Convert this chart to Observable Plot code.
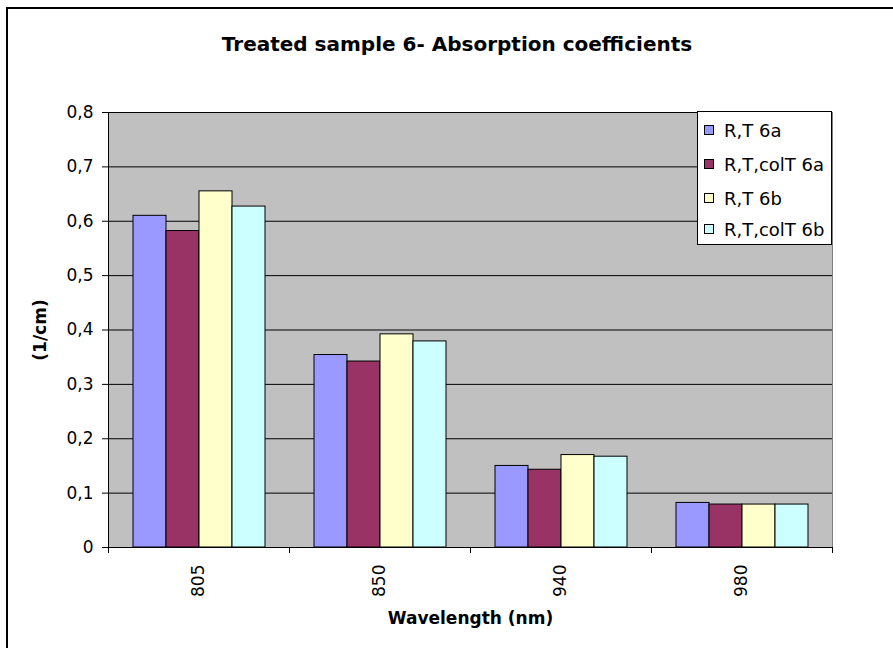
<!DOCTYPE html>
<html>
<head>
<meta charset="utf-8">
<script src="https://cdn.jsdelivr.net/npm/d3@7"></script>
<script src="https://cdn.jsdelivr.net/npm/@observablehq/plot@0.6"></script>
<style>
  html, body { margin: 0; padding: 0; background: #fff; }
  #chart { position: relative; width: 893px; height: 648px; overflow: hidden; font-family: "DejaVu Sans", sans-serif; }
  #border { position: absolute; left: 6px; top: 7px; width: 1000px; height: 1000px; border-left: 2px solid #000; border-top: 2px solid #000; box-sizing: border-box; }
  #title { position: absolute; left: 0; top: 32px; width: 914px; text-align: center; font-weight: bold; font-size: 20px; color: #000; }
  #legend { position: absolute; left: 697px; top: 111px; width: 135px; height: 134px; box-sizing: border-box; background: #fff; border: 1px solid #000; }
  .item { position: absolute; left: 6px; height: 20px; display: flex; align-items: center; font-size: 18px; color: #000; white-space: nowrap; }
  .swatch { width: 8px; height: 8px; border: 1px solid #000; margin-right: 10px; }
  svg [aria-label="y-axis label"], svg [aria-label="fx-axis label"] { font-weight: bold; }
</style>
</head>
<body>
<div id="chart">
  <div id="border"></div>
  <div id="title">Treated sample 6- Absorption coefficients</div>
</div>
<script>
// Wavelength categories (nm) and the four measured series
const wavelengths = ["805", "850", "940", "980"];
const seriesNames = ["R,T 6a", "R,T,colT 6a", "R,T 6b", "R,T,colT 6b"];
const rt6a    = [0.610, 0.354, 0.150, 0.082];
const rtCol6a = [0.582, 0.342, 0.143, 0.079];
const rt6b    = [0.655, 0.392, 0.170, 0.079];
const rtCol6b = [0.627, 0.379, 0.167, 0.079];
const seriesColors = ["#9999FF", "#993366", "#FFFFCC", "#CCFFFF"];
const yTicks = [0, 0.1, 0.2, 0.3, 0.4, 0.5, 0.6, 0.7, 0.8];

const seriesValues = [rt6a, rtCol6a, rt6b, rtCol6b];
const table = wavelengths.flatMap((w, i) =>
  seriesNames.map((s, j) => ({wavelength: w, series: s, value: seriesValues[j][i]}))
);

const W = 893, H = 648, mL = 108, mR = 61, mT = 112, mB = 101;
const band = (W - mL - mR) / wavelengths.length;
const commaFmt = d => d === 0 ? "0" : d3.format(".1f")(d).replace(".", ",");

const chart = Plot.plot({
  width: W,
  height: H,
  marginLeft: mL,
  marginRight: mR,
  marginTop: mT,
  marginBottom: mB,
  style: {fontFamily: "DejaVu Sans, sans-serif", fontSize: "17px", color: "#000", background: "transparent", overflow: "visible"},
  fx: {domain: wavelengths, padding: 0, axis: null},
  x: {domain: seriesNames, paddingInner: 0, paddingOuter: 0.74, axis: null},
  y: {domain: [0, 0.8], axis: null},
  color: {domain: seriesNames, range: seriesColors},
  marks: [
    Plot.frame({fill: "#C0C0C0", stroke: null, facet: "super"}),
    Plot.gridY(yTicks, {stroke: "#000", strokeOpacity: 1}),
    Plot.barY(table, {fx: "wavelength", x: "series", y: "value", fill: "series", stroke: "#000", strokeWidth: 1}),
    Plot.frame({anchor: "right", stroke: "#808080", strokeOpacity: 1, facet: "super"}),
    Plot.frame({anchor: "left", stroke: "#000", strokeOpacity: 1, facet: "super"}),
    Plot.ruleY([0], {stroke: "#000"}),
    Plot.axisY(yTicks, {
      anchor: "left", tickFormat: commaFmt, tickSize: 6, tickPadding: 9,
      label: "(1/cm)", labelAnchor: "center", labelArrow: "none", labelOffset: 75, fontSize: 17
    }),
    // category boundary ticks on the horizontal axis
    Plot.axisFx({anchor: "bottom", tickSize: 6, tickFormat: () => "", label: null, dx: -band / 2}),
    Plot.axisFx({anchor: "bottom", tickSize: 6, tickFormat: () => "", label: null, dx: band / 2}),
    Plot.axisFx({
      anchor: "bottom", tickSize: 0, tickRotate: -90, tickPadding: 17,
      label: "Wavelength (nm)", labelAnchor: "center", labelArrow: "none", labelOffset: 76, fontSize: 17
    })
  ]
});
chart.style.position = "absolute";
chart.style.left = "0px";
chart.style.top = "0px";
document.getElementById("chart").appendChild(chart);

// legend box drawn from the same series names and colours
const legend = document.createElement("div");
legend.id = "legend";
const rowTops = [8, 42, 76, 107];
seriesNames.forEach((name, i) => {
  const item = document.createElement("div");
  item.className = "item";
  item.style.top = rowTops[i] + "px";
  const sw = document.createElement("span");
  sw.className = "swatch";
  sw.style.background = seriesColors[i];
  const label = document.createElement("span");
  label.textContent = name;
  item.appendChild(sw);
  item.appendChild(label);
  legend.appendChild(item);
});
document.getElementById("chart").appendChild(legend);
</script>
</body>
</html>
